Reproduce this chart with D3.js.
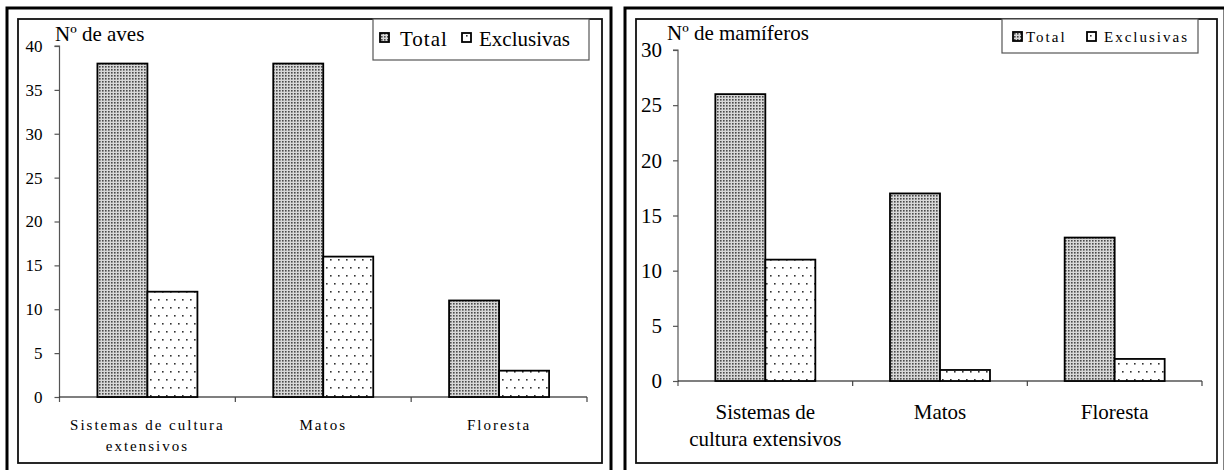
<!DOCTYPE html>
<html><head><meta charset="utf-8">
<script src="https://cdn.jsdelivr.net/npm/d3@7"></script>
<style>
html,body{margin:0;padding:0;background:#fff;}
</style></head>
<body><svg id="c" width="1224" height="470"></svg>
<script>
// ---- data ----
const categories = ["Sistemas de cultura extensivos", "Matos", "Floresta"];
const series = ["Total", "Exclusivas"];
const avesTotal = [38, 38, 11];
const avesExclusivas = [12, 16, 3];
const mamTotal = [26, 17, 13];
const mamExclusivas = [11, 1, 2];
const avesTicks = [0, 5, 10, 15, 20, 25, 30, 35, 40];
const mamTicks = [0, 5, 10, 15, 20, 25, 30];
const avesLabelLines = [["Sistemas de cultura", "extensivos"], ["Matos"], ["Floresta"]];
const mamLabelLines = [["Sistemas de", "cultura extensivos"], ["Matos"], ["Floresta"]];
const avesTitle = "Nº de aves";
const mamTitle = "Nº de mamíferos";

const FONT = "Liberation Serif";
const svg = d3.select("#c");
const defs = svg.append("defs");
// dense dotted pattern (Total)
const pT = defs.append("pattern").attr("id", "patTotal").attr("patternUnits", "userSpaceOnUse")
  .attr("width", 3).attr("height", 3);
pT.append("rect").attr("width", 3).attr("height", 3).attr("fill", "#d8d8d8");
pT.append("rect").attr("width", 1.6).attr("height", 1.6).attr("fill", "#4a4a4a");
// sparse dotted pattern (Exclusivas)
const pE = defs.append("pattern").attr("id", "patExcl").attr("patternUnits", "userSpaceOnUse")
  .attr("width", 8).attr("height", 16);
pE.append("rect").attr("width", 8).attr("height", 16).attr("fill", "#fff");
pE.append("rect").attr("x", 2).attr("y", 3).attr("width", 1.6).attr("height", 1.6).attr("fill", "#333");
pE.append("rect").attr("x", 6).attr("y", 11).attr("width", 1.6).attr("height", 1.6).attr("fill", "#333");
const fills = {Total: "url(#patTotal)", Exclusivas: "url(#patExcl)"};

function panel(cfg) {
  const g = svg.append("g");
  // frames
  g.append("rect").attr("x", cfg.outer[0]).attr("y", cfg.outer[1]).attr("width", cfg.outer[2]).attr("height", cfg.outer[3])
    .attr("fill", "none").attr("stroke", "#000").attr("stroke-width", 3);
  g.append("rect").attr("x", cfg.inner[0]).attr("y", cfg.inner[1]).attr("width", cfg.inner[2]).attr("height", cfg.inner[3])
    .attr("fill", "none").attr("stroke", "#111").attr("stroke-width", 1.8);

  const x = d3.scaleBand().domain(categories).range(cfg.xRange).padding(0);
  const bw = x.bandwidth();
  const x1 = d3.scaleBand().domain(series).range([bw / 2 - cfg.barW, bw / 2 + cfg.barW]).padding(0);
  const y = d3.scaleLinear().domain([0, d3.max(cfg.ticks)]).range(cfg.yRange);

  // y axis
  const ya = g.append("g").attr("transform", `translate(${cfg.xRange[0]},0)`)
    .call(d3.axisLeft(y).tickValues(cfg.ticks).tickSize(5).tickPadding(cfg.tickPad).tickFormat(d3.format("d")));
  ya.attr("font-family", FONT).attr("font-size", cfg.tickFont);
  ya.select(".domain").attr("stroke", "#555").attr("stroke-width", 1.2).attr("d", `M-5,${y(d3.max(cfg.ticks))}H0V${cfg.yRange[0] + 5}`);
  ya.selectAll(".tick line").attr("stroke", "#555").attr("stroke-width", 1.2);
  ya.selectAll(".tick text").attr("font-family", FONT).attr("font-size", cfg.tickFont).attr("fill", "#000");

  // x axis
  const xa = g.append("g");
  xa.append("line").attr("x1", cfg.xRange[0]).attr("x2", cfg.xRange[1]).attr("y1", y(0)).attr("y2", y(0))
    .attr("stroke", "#000").attr("stroke-width", 1.2);
  const bounds = categories.map(c => x(c)).concat([x(categories[categories.length - 1]) + bw]).slice(1);
  xa.selectAll("line.t").data(bounds).join("line").attr("class", "t")
    .attr("x1", d => d).attr("x2", d => d).attr("y1", y(0)).attr("y2", y(0) + 5)
    .attr("stroke", "#444").attr("stroke-width", 1.2);

  // bars
  const data = [];
  categories.forEach((c, i) => {
    data.push({c, s: "Total", v: cfg.total[i]});
    data.push({c, s: "Exclusivas", v: cfg.excl[i]});
  });
  g.selectAll("rect.bar").data(data).join("rect").attr("class", "bar")
    .attr("x", d => x(d.c) + x1(d.s)).attr("width", x1.bandwidth())
    .attr("y", d => y(d.v)).attr("height", d => y(0) - y(d.v))
    .attr("fill", d => fills[d.s]).attr("stroke", "#000").attr("stroke-width", 1.8);

  // category labels
  categories.forEach((c, i) => {
    cfg.lines[i].forEach((ln, j) => {
      const t = g.append("text").attr("text-anchor", "middle").attr("font-size", cfg.catFont)
        .attr("font-family", FONT).attr("fill", "#000")
        .attr("x", x(c) + bw / 2).attr("y", cfg.catY + j * cfg.catLH).text(ln);
      if (cfg.catLS) t.attr("letter-spacing", cfg.catLS);
    });
  });

  // title
  g.append("text").attr("x", cfg.titlePos[0]).attr("y", cfg.titlePos[1]).attr("font-size", cfg.titleFont)
    .attr("font-family", FONT).attr("fill", "#000").text(cfg.title);

  // legend
  const L = cfg.legend;
  g.append("rect").attr("x", L.box[0]).attr("y", L.box[1]).attr("width", L.box[2]).attr("height", L.box[3])
    .attr("fill", "#fff").attr("stroke", "#555").attr("stroke-width", 1.2);
  series.forEach((s, i) => {
    g.append("rect").attr("x", L.sw[i]).attr("y", L.swY).attr("width", L.swS).attr("height", L.swS)
      .attr("fill", fills[s]).attr("stroke", "#000").attr("stroke-width", 1.8);
    const t = g.append("text").attr("x", L.tx[i]).attr("y", L.ty).attr("font-size", L.font)
      .attr("font-family", FONT).attr("fill", "#000").text(s);
    if (L.ls[i]) t.attr("letter-spacing", L.ls[i]);
  });
}

panel({
  outer: [7, 8, 604, 466], inner: [18, 19, 584, 444],
  xRange: [59.5, 587], yRange: [397, 46], barW: 50, ticks: avesTicks,
  tickPad: 12, tickFont: 17, total: avesTotal, excl: avesExclusivas,
  lines: avesLabelLines, catFont: 15, catLS: 2, catY: 430, catLH: 21,
  title: avesTitle, titlePos: [55, 41], titleFont: 21,
  legend: {box: [373, 19, 216, 41], sw: [380, 462], swY: 33, swS: 9, tx: [400, 479], ty: 46, font: 21, ls: [1, 0]}
});

panel({
  outer: [625, 8, 600, 466], inner: [636, 19, 581, 444],
  xRange: [678, 1202], yRange: [381, 50], barW: 50, ticks: mamTicks,
  tickPad: 11, tickFont: 21, total: mamTotal, excl: mamExclusivas,
  lines: mamLabelLines, catFont: 21, catLS: 0, catY: 419, catLH: 27,
  title: mamTitle, titlePos: [667, 40], titleFont: 21,
  legend: {box: [1002, 19, 196, 34], sw: [1013, 1087], swY: 32, swS: 9, tx: [1026, 1104], ty: 42, font: 15, ls: [2, 2]}
});
</script></body></html>
